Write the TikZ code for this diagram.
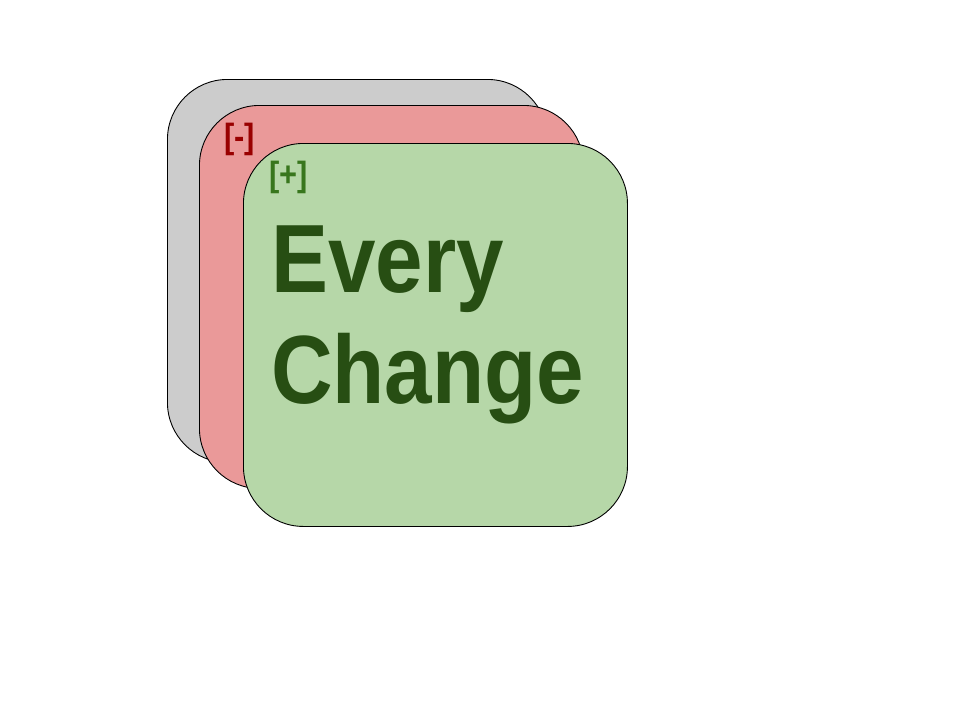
\documentclass[tikz,border=0pt]{standalone}
\usepackage{fontspec}
\setmainfont{Liberation Sans}
\newfontfamily\cardfont[FakeStretch=0.88]{Liberation Sans}
\definecolor{cardgray}{HTML}{CCCCCC}
\definecolor{cardred}{HTML}{EA9999}
\definecolor{cardgreen}{HTML}{B6D7A8}
\definecolor{minusred}{HTML}{990000}
\definecolor{plusgreen}{HTML}{38761D}
\definecolor{titlegreen}{HTML}{274E13}
\tikzset{
  card/.style={draw=black, line width=0.9pt, rounded corners=60pt,
    minimum width=384pt, minimum height=383pt, inner sep=0pt, anchor=north west},
  tag/.style={inner sep=0pt, anchor=base west, font=\cardfont\bfseries\fontsize{35}{40}\selectfont},
  title/.style={inner sep=0pt, anchor=base west, text=titlegreen,
    font=\cardfont\bfseries\fontsize{97}{110}\selectfont}
}
\begin{document}
\begin{tikzpicture}[x=1pt,y=-1pt]
  \useasboundingbox (0,0) rectangle (960,720);
  % stacked cards, back to front
  \node[card, fill=cardgray, minimum width=380pt] (back) at (167,79) {};
  \node[card, fill=cardred] (old) at (199,105) {};
  \node[card, fill=cardgreen] (new) at (243,143) {};
  % markers and title
  \node[tag, text=minusred] (minus) at (224,148) {[-]};
  \node[tag, text=plusgreen] (plus) at (269,186) {[+]};
  \node[title] (line1) at (271,292) {Every};
  \node[title] (line2) at (271,403) {Change};
\end{tikzpicture}
\end{document}
